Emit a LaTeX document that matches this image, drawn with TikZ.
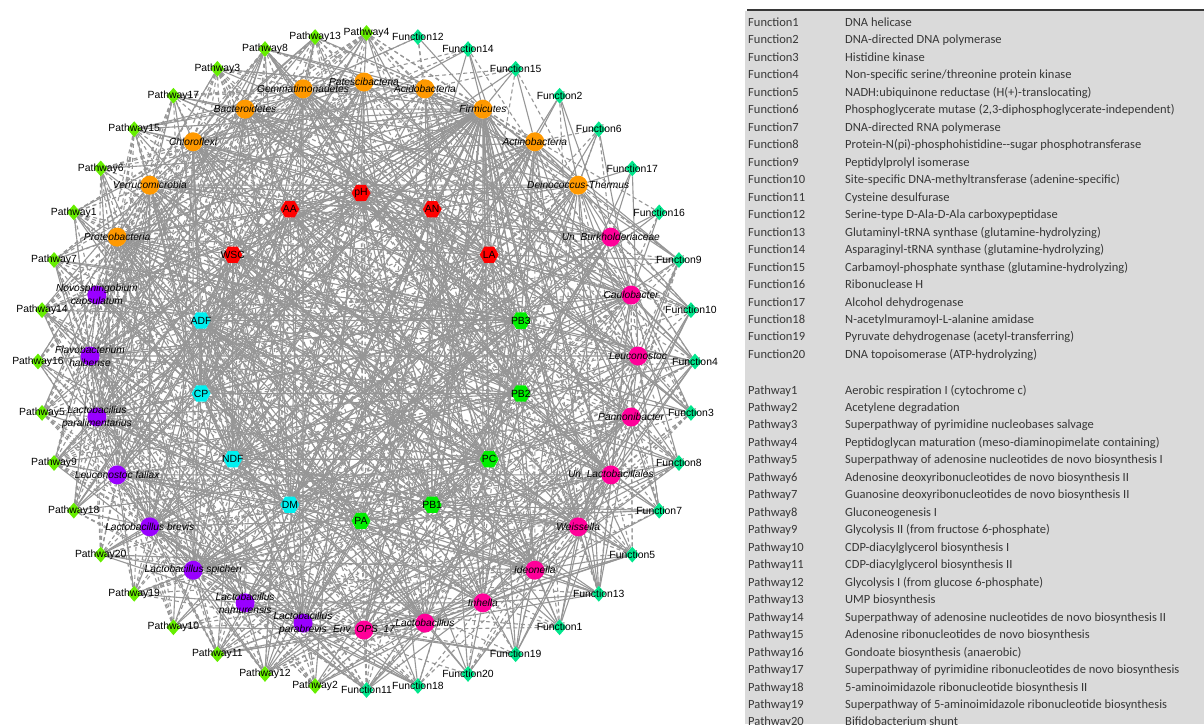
\documentclass[tikz,border=0pt]{standalone}
\usepackage{fontspec}
\setmainfont{Liberation Sans}
\newfontfamily\tabfont{Carlito}
\usetikzlibrary{shapes.geometric,backgrounds}

\definecolor{orangetax}{RGB}{255,153,0}
\definecolor{violettax}{RGB}{153,0,255}
\definecolor{pinktax}{RGB}{255,0,153}
\definecolor{envred}{RGB}{255,0,0}
\definecolor{envcyan}{RGB}{0,240,240}
\definecolor{envgreen}{RGB}{0,238,0}
\definecolor{pwgreen}{RGB}{102,238,0}
\definecolor{fnmint}{RGB}{0,230,140}
\definecolor{edgegray}{RGB}{150,150,150}
\definecolor{tabgray}{RGB}{218,218,218}
\definecolor{tabink}{RGB}{55,55,55}

\tikzset{
  pwnode/.style={diamond,fill=pwgreen,inner sep=0pt,minimum width=14pt,minimum height=16pt},
  fnnode/.style={diamond,fill=fnmint,inner sep=0pt,minimum width=14pt,minimum height=16pt},
  taxon/.style={circle,inner sep=0pt,minimum size=19pt},
  envhex/.style={regular polygon,regular polygon sides=6,inner sep=0pt,minimum size=19pt},
  lab/.style={inner sep=0pt,align=center,font=\fontsize{10.4}{13}\selectfont},
  taxlab/.style={lab,font=\fontsize{10.2}{13}\selectfont\itshape},
  poslink/.style={draw=edgegray,line width=1.1pt},
  neglink/.style={draw=edgegray,line width=1.1pt,dash pattern=on 4pt off 3pt},
  tabtxt/.style={inner sep=0pt,anchor=base west,text=tabink,font=\tabfont\fontsize{12.5}{14}\selectfont}
}

\begin{document}
\begin{tikzpicture}[x=1pt,y=-1pt]
\useasboundingbox (0,0) rectangle (1204,724);

\def\ox{366.5} % centre of the outer ring
\def\oy{361.5}
\def\ro{328.5} % radius of the outer ring
\def\tx{364}   % centre of the taxa ring
\def\ty{356}
\def\rt{274}
\def\ex{361}   % centre of the environment ring
\def\ey{357}
\def\re{164}

% outer ring
\foreach \k/\nm in {1/Pathway4,2/Pathway13,3/Pathway8,4/Pathway3,5/Pathway17,
  6/Pathway15,7/Pathway6,8/Pathway1,9/Pathway7,10/Pathway14,11/Pathway16,
  12/Pathway5,13/Pathway9,14/Pathway18,15/Pathway20,16/Pathway19,17/Pathway10,
  18/Pathway11,19/Pathway12,20/Pathway2}{
  \node[pwnode] (o\k) at ({\ox+\ro*cos(81+9*\k)},{\oy-\ro*sin(81+9*\k)}) {};
  \node[lab] at (o\k) {\nm};
}
\foreach \k/\nm in {21/Function11,22/Function18,23/Function20,24/Function19,
  25/Function1,26/Function13,27/Function5,28/Function7,29/Function8,30/Function3,
  31/Function4,32/Function10,33/Function9,34/Function16,35/Function17,36/Function6,
  37/Function2,38/Function15,39/Function14,40/Function12}{
  \node[fnnode] (o\k) at ({\ox+\ro*cos(81+9*\k)},{\oy-\ro*sin(81+9*\k)}) {};
  \node[lab] at (o\k) {\nm};
}

% taxa ring
\foreach \k/\col/\nm in {1/orangetax/Patescibacteria,2/orangetax/Gemmatimonadetes,
  3/orangetax/Bacteroidetes,4/orangetax/Chloroflexi,5/orangetax/Verrucomicrobia,
  6/orangetax/Proteobacteria,7/violettax/{Novosphingobium\\capsulatum},
  8/violettax/{Flavobacterium\\haibense},9/violettax/{Lactobacillus\\paralimentarius},
  10/violettax/{Leuconostoc fallax},11/violettax/{Lactobacillus brevis},
  12/violettax/{Lactobacillus spicheri},13/violettax/{Lactobacillus\\namurensis},
  14/violettax/{Lactobacillus\\parabrevis},15/pinktax/{Env\_OPS\_17},
  16/pinktax/Lactobacillus,17/pinktax/Inhella,18/pinktax/Ideonella,
  19/pinktax/Weissella,20/pinktax/{Un\_Lactobacillales},21/pinktax/Pannonibacter,
  22/pinktax/Leuconostoc,23/pinktax/Caulobacter,24/pinktax/{Un\_Burkholderiaceae},
  25/orangetax/{Deinococcus-Thermus},26/orangetax/Actinobacteria,
  27/orangetax/Firmicutes,28/orangetax/Acidobacteria}{
  \node[taxon,fill=\col] (t\k) at ({\tx+\rt*cos(77.143+12.857*\k)},{\ty-\rt*sin(77.143+12.857*\k)}) {};
  \node[taxlab] at (t\k) {\nm};
}

% environment ring
\foreach \k/\col/\nm in {1/envred/pH,2/envred/AA,3/envred/WSC,4/envcyan/ADF,
  5/envcyan/CP,6/envcyan/NDF,7/envcyan/DM,8/envgreen/PA,9/envgreen/PB1,
  10/envgreen/PC,11/envgreen/PB2,12/envgreen/PB3,13/envred/LA,14/envred/AN}{
  \node[envhex,fill=\col] (e\k) at ({\ex+\re*cos(64.286+25.714*\k)},{\ey-\re*sin(64.286+25.714*\k)}) {};
  \node[lab] at (e\k) {\nm};
}

\begin{scope}[on background layer]
\pgfmathsetseed{4242}
% environment -- taxa
\foreach \i in {1,...,14}{
  \foreach \j in {1,...,28}{
    \pgfmathsetmacro{\rndA}{rnd}
    \pgfmathsetmacro{\rndB}{rnd}
    \ifdim\rndA pt<0.72pt
      \ifdim\rndB pt<0.6pt \draw[poslink] (e\i) -- (t\j);
      \else \draw[neglink] (e\i) -- (t\j); \fi
    \fi
  }
}
% environment -- environment
\foreach \i in {1,...,13}{
  \pgfmathtruncatemacro{\nxt}{\i+1}
  \foreach \j in {\nxt,...,14}{
    \pgfmathsetmacro{\rndA}{rnd}
    \ifdim\rndA pt<0.4pt \draw[poslink] (e\i) -- (e\j); \fi
  }
}
% outer ring -- taxa
\foreach \k in {1,...,40}{
  \pgfmathsetmacro{\wgt}{\k<21 ? 1 : (\k<34 ? 0.8 : 0.2)}
  \pgfmathsetmacro{\dshare}{\k<21 ? 0.65 : 0.45}
  \foreach \j in {1,...,28}{
    \pgfmathsetmacro{\adist}{abs(mod(81+9*\k-77.143-12.857*\j+540,360)-180)}
    \pgfmathsetmacro{\thr}{\wgt*(\adist<40 ? 0.95 : (\adist<100 ? 0.55 : 0.3))}
    \pgfmathsetmacro{\rndA}{rnd}
    \pgfmathsetmacro{\rndB}{rnd}
    \ifdim\rndA pt<\thr pt
      \ifdim\rndB pt<\dshare pt \draw[neglink] (o\k) -- (t\j);
      \else \draw[poslink] (o\k) -- (t\j); \fi
    \fi
  }
}
% outer ring -- environment
\foreach \k in {1,...,33}{
  \foreach \i in {1,...,14}{
    \pgfmathsetmacro{\rndA}{rnd}
    \pgfmathsetmacro{\rndB}{rnd}
    \ifdim\rndA pt<0.25pt
      \ifdim\rndB pt<0.5pt \draw[neglink] (o\k) -- (e\i);
      \else \draw[poslink] (o\k) -- (e\i); \fi
    \fi
  }
}
% taxa -- taxa
\foreach \i in {1,...,27}{
  \pgfmathtruncatemacro{\nxt}{\i+1}
  \foreach \j in {\nxt,...,28}{
    \pgfmathsetmacro{\rndA}{rnd}
    \pgfmathsetmacro{\rndB}{rnd}
    \ifdim\rndA pt<0.38pt
      \ifdim\rndB pt<0.6pt \draw[poslink] (t\i) -- (t\j);
      \else \draw[neglink] (t\i) -- (t\j); \fi
    \fi
  }
}
% Firmicutes hub
\foreach \i in {1,...,14} \draw[poslink] (t27) -- (e\i);
\foreach \j in {4,...,23} \draw[poslink] (t27) -- (t\j);
% top right functions
\draw[poslink] (o39) -- (t27);
\draw[poslink] (o38) -- (t27);
\draw[poslink] (o38) -- (t26);
\draw[neglink] (o38) -- (t25);
\draw[neglink] (o38) -- (t28);
\draw[neglink] (o38) -- (t1);
\draw[poslink] (o37) -- (t25);
\draw[poslink] (o36) -- (t25);
\draw[neglink] (o36) -- (t24);
\draw[poslink] (o36) -- (t23);
\draw[poslink] (o35) -- (t24);
\draw[poslink] (o35) -- (t25);
\draw[poslink] (o34) -- (t23);
\draw[poslink] (o34) -- (t24);
\draw[poslink] (o40) -- (t27);
\draw[neglink] (o40) -- (t28);
\draw[neglink] (o40) -- (t2);
\end{scope}

% legend table
\fill[tabgray] (745,11) rectangle (1204,724);
\draw[tabink,line width=2pt] (747,10) -- (1204,10);
\foreach \k/\txt in {1/{DNA helicase},2/{DNA-directed DNA polymerase},
  3/{Histidine kinase},4/{Non-specific serine/threonine protein kinase},
  5/{NADH:ubiquinone reductase (H(+)-translocating)},
  6/{Phosphoglycerate mutase (2,3-diphosphoglycerate-independent)},
  7/{DNA-directed RNA polymerase},
  8/{Protein-N(pi)-phosphohistidine-{}-sugar phosphotransferase},
  9/{Peptidylprolyl isomerase},
  10/{Site-specific DNA-methyltransferase (adenine-specific)},
  11/{Cysteine desulfurase},12/{Serine-type D-Ala-D-Ala carboxypeptidase},
  13/{Glutaminyl-tRNA synthase (glutamine-hydrolyzing)},
  14/{Asparaginyl-tRNA synthase (glutamine-hydrolyzing)},
  15/{Carbamoyl-phosphate synthase (glutamine-hydrolyzing)},
  16/{Ribonuclease H},17/{Alcohol dehydrogenase},
  18/{N-acetylmuramoyl-L-alanine amidase},
  19/{Pyruvate dehydrogenase (acetyl-transferring)},
  20/{DNA topoisomerase (ATP-hydrolyzing)}}{
  \node[tabtxt] (fn\k) at (748,{26.5+17.47*(\k-1)}) {Function\k};
  \node[tabtxt] at (845,{26.5+17.47*(\k-1)}) {\txt};
}
\foreach \k/\txt in {1/{Aerobic respiration I (cytochrome c)},
  2/{Acetylene degradation},3/{Superpathway of pyrimidine nucleobases salvage},
  4/{Peptidoglycan maturation (meso-diaminopimelate containing)},
  5/{Superpathway of adenosine nucleotides de novo biosynthesis I},
  6/{Adenosine deoxyribonucleotides de novo biosynthesis II},
  7/{Guanosine deoxyribonucleotides de novo biosynthesis II},
  8/{Gluconeogenesis I},9/{Glycolysis II (from fructose 6-phosphate)},
  10/{CDP-diacylglycerol biosynthesis I},11/{CDP-diacylglycerol biosynthesis II},
  12/{Glycolysis I (from glucose 6-phosphate)},13/{UMP biosynthesis},
  14/{Superpathway of adenosine nucleotides de novo biosynthesis II},
  15/{Adenosine ribonucleotides de novo biosynthesis},
  16/{Gondoate biosynthesis (anaerobic)},
  17/{Superpathway of pyrimidine ribonucleotides de novo biosynthesis},
  18/{5-aminoimidazole ribonucleotide biosynthesis II},
  19/{Superpathway of 5-aminoimidazole ribonucleotide biosynthesis},
  20/{Bifidobacterium shunt}}{
  \node[tabtxt] (pw\k) at (748,{394+17.47*(\k-1)}) {Pathway\k};
  \node[tabtxt] at (845,{394+17.47*(\k-1)}) {\txt};
}
\end{tikzpicture}
\end{document}
